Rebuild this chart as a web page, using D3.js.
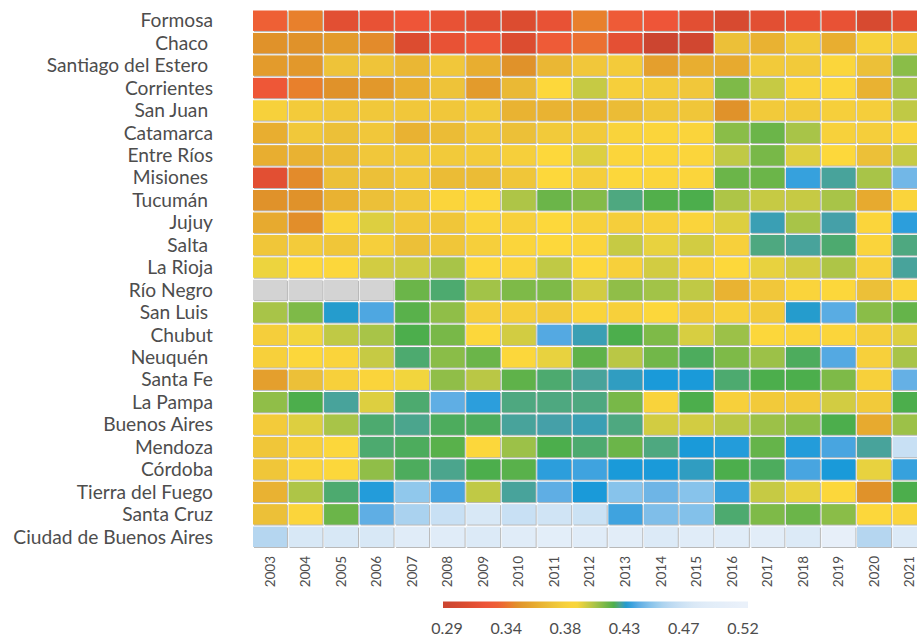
<!DOCTYPE html>
<html>
<head>
<meta charset="utf-8">
<script src="https://cdn.jsdelivr.net/npm/d3@7"></script>
<style>
  html, body { margin: 0; padding: 0; background: #fff; }
  svg { display: block; font-family: Lato, "Open Sans", sans-serif; }
  .ylab { white-space: pre; }
</style>
</head>
<body>
<svg id="chart" width="917" height="641"></svg>
<script>
// Years shown along the bottom axis
const years = ["2003","2004","2005","2006","2007","2008","2009","2010","2011","2012",
               "2013","2014","2015","2016","2017","2018","2019","2020","2021"];

// Provinces, top to bottom
const provinces = ["Formosa","Chaco ","Santiago del Estero ","Corrientes","San Juan ","Catamarca",
  "Entre Ríos","Misiones ","Tucumán ","Jujuy","Salta ","La Rioja","Río Negro","San Luis ",
  "Chubut","Neuquén ","Santa Fe","La Pampa","Buenos Aires","Mendoza","Córdoba",
  "Tierra del Fuego","Santa Cruz","Ciudad de Buenos Aires"];

// Index per province and year (null = no data)
const formosa      = [0.330,0.340,0.310,0.315,0.320,0.315,0.310,0.305,0.315,0.340,0.325,0.320,0.310,0.300,0.310,0.315,0.315,0.300,0.310];
const chaco        = [0.345,0.345,0.350,0.343,0.305,0.315,0.322,0.305,0.325,0.335,0.312,0.290,0.295,0.370,0.362,0.377,0.360,0.383,0.378];
const santiago     = [0.350,0.348,0.372,0.373,0.365,0.375,0.360,0.345,0.365,0.375,0.378,0.352,0.360,0.358,0.377,0.377,0.388,0.370,0.410];
const corrientes   = [0.322,0.340,0.345,0.348,0.360,0.372,0.350,0.366,0.390,0.400,0.381,0.378,0.375,0.412,0.400,0.385,0.388,0.362,0.405];
const sanJuan      = [0.383,0.378,0.375,0.376,0.375,0.375,0.377,0.363,0.363,0.363,0.368,0.374,0.374,0.345,0.377,0.377,0.381,0.380,0.401];
const catamarca    = [0.360,0.376,0.370,0.375,0.362,0.368,0.375,0.370,0.377,0.377,0.385,0.387,0.386,0.410,0.415,0.405,0.383,0.380,0.386];
const entreRios    = [0.360,0.362,0.368,0.375,0.376,0.377,0.378,0.381,0.390,0.396,0.387,0.387,0.387,0.401,0.413,0.396,0.390,0.370,0.400];
const misiones     = [0.310,0.343,0.370,0.370,0.375,0.368,0.368,0.374,0.390,0.380,0.389,0.387,0.387,0.415,0.415,0.433,0.425,0.405,0.443];
const tucuman      = [0.345,0.345,0.362,0.370,0.375,0.387,0.389,0.404,0.415,0.411,0.423,0.419,0.420,0.404,0.400,0.400,0.405,0.358,0.386];
const jujuy        = [0.358,0.344,0.386,0.396,0.375,0.374,0.386,0.382,0.390,0.383,0.380,0.382,0.386,0.396,0.427,0.405,0.426,0.387,0.432];
const salta        = [0.374,0.378,0.374,0.381,0.370,0.374,0.381,0.387,0.390,0.387,0.400,0.394,0.398,0.382,0.423,0.425,0.422,0.386,0.423];
const laRioja      = [0.393,0.389,0.389,0.398,0.399,0.405,0.389,0.386,0.401,0.390,0.382,0.398,0.382,0.390,0.394,0.398,0.404,0.382,0.425];
const rioNegro     = [null,null,null,null,0.415,0.422,0.406,0.412,0.412,0.398,0.409,0.406,0.401,0.363,0.375,0.386,0.389,0.370,0.386];
const sanLuis      = [0.405,0.412,0.429,0.436,0.418,0.409,0.380,0.380,0.377,0.386,0.382,0.389,0.377,0.382,0.377,0.429,0.438,0.410,0.416];
const chubut       = [0.380,0.392,0.401,0.405,0.420,0.413,0.389,0.398,0.437,0.427,0.420,0.412,0.397,0.407,0.389,0.386,0.387,0.380,0.396];
const neuquen      = [0.382,0.389,0.386,0.400,0.422,0.410,0.415,0.389,0.394,0.417,0.402,0.414,0.421,0.412,0.407,0.421,0.437,0.382,0.405];
const santaFe      = [0.352,0.370,0.382,0.386,0.392,0.409,0.402,0.417,0.422,0.425,0.428,0.430,0.430,0.422,0.420,0.420,0.412,0.382,0.440];
const laPampa      = [0.409,0.420,0.425,0.396,0.422,0.439,0.432,0.423,0.423,0.423,0.413,0.385,0.420,0.382,0.377,0.377,0.398,0.377,0.420];
const buenosAires  = [0.378,0.396,0.405,0.422,0.424,0.421,0.421,0.425,0.426,0.427,0.423,0.398,0.398,0.402,0.407,0.410,0.420,0.358,0.407];
const mendoza      = [0.374,0.382,0.389,0.422,0.421,0.418,0.389,0.407,0.420,0.422,0.415,0.423,0.430,0.431,0.416,0.431,0.435,0.425,0.470];
const cordoba      = [0.374,0.386,0.389,0.409,0.421,0.424,0.420,0.418,0.432,0.434,0.430,0.430,0.428,0.420,0.421,0.435,0.430,0.394,0.433];
const tierraFuego  = [0.362,0.404,0.422,0.431,0.450,0.435,0.401,0.425,0.439,0.430,0.448,0.442,0.448,0.433,0.400,0.394,0.389,0.345,0.420];
const santaCruz    = [0.370,0.387,0.415,0.439,0.457,0.470,0.480,0.470,0.475,0.472,0.434,0.446,0.447,0.422,0.412,0.415,0.410,0.389,0.386];
const caba         = [0.460,0.480,0.480,0.480,0.490,0.490,0.485,0.490,0.500,0.490,0.495,0.485,0.490,0.490,0.495,0.485,0.510,0.460,0.485];

const rows = [formosa, chaco, santiago, corrientes, sanJuan, catamarca, entreRios, misiones,
  tucuman, jujuy, salta, laRioja, rioNegro, sanLuis, chubut, neuquen, santaFe, laPampa,
  buenosAires, mendoza, cordoba, tierraFuego, santaCruz, caba];

// Legend tick labels
const legendTicks = [0.29, 0.336, 0.382, 0.428, 0.474, 0.52];
const legendLabels = ["0.29","0.34","0.38","0.43","0.47","0.52"];

// Diverging colour ramp: red → orange → yellow → green → blue → pale blue
const colorStops = [0.29,0.305,0.32,0.33,0.34,0.345,0.36,0.37,0.38,0.39,0.398,0.405,0.413,0.42,0.423,0.426,0.43,0.435,0.44,0.45,0.46,0.47,0.48,0.49,0.52];
const colorRange = ["#cc4530","#dc4c30","#ee5538","#ee6035","#e8802c","#e0922a","#e8ae30","#ecc038","#f5ce3b","#fdd83b","#d2cc42","#a8c448","#78b848","#4cae4c","#4ea880","#45a0a8","#1a9ad9","#48a5e0","#65b0e5","#90c8ec","#b5d6f0","#c8e0f4","#d8e8f6","#e0ecf8","#eaf1fa"];

const color = d3.scaleLinear().domain(colorStops).range(colorRange)
  .interpolate(d3.interpolateRgb).clamp(true);

const svg = d3.select("#chart");
svg.append("rect").attr("width", 917).attr("height", 641).attr("fill", "#fff");

const x = d3.scaleBand().domain(years).range([253, 926.5]).paddingInner(0.045).paddingOuter(0);
const y = d3.scaleBand().domain(provinces).range([10.5, 547]).paddingInner(0.09).paddingOuter(0);

const cells = [];
rows.forEach((vals, i) => vals.forEach((v, j) => cells.push({ p: provinces[i], yr: years[j], v })));

const g = svg.append("g");
// soft shadow under each cell
g.selectAll("rect.sh").data(cells).join("rect").attr("class", "sh")
  .attr("x", d => x(d.yr) + 1).attr("y", d => y(d.p) + 1)
  .attr("width", x.bandwidth()).attr("height", y.bandwidth())
  .attr("fill", "#b9b9b9");
g.selectAll("rect.cell").data(cells).join("rect").attr("class", "cell")
  .attr("x", d => x(d.yr)).attr("y", d => y(d.p))
  .attr("width", x.bandwidth()).attr("height", y.bandwidth())
  .attr("fill", d => d.v == null ? "#d3d3d3" : color(d.v));

// Province labels
svg.append("g").selectAll("text").data(provinces).join("text")
  .attr("class", "ylab")
  .attr("x", 213).attr("y", d => y(d) + y.bandwidth() / 2)
  .attr("dy", "0.35em").attr("text-anchor", "end")
  .attr("font-size", 19.2).attr("fill", "#4d4d4d")
  .text(d => d);

// Year labels, rotated
svg.append("g").selectAll("text").data(years).join("text")
  .attr("transform", d => `translate(${x(d) + x.bandwidth() / 2},556) rotate(-90)`)
  .attr("dy", "0.35em").attr("text-anchor", "end")
  .attr("font-size", 13.5).attr("fill", "#4d4d4d")
  .text(d => d);

// Colour legend
const lx = d3.scaleLinear().domain([0.29, 0.52]).range([447, 743]);
const defs = svg.append("defs");
const grad = defs.append("linearGradient").attr("id", "lg")
  .attr("x1", "0%").attr("x2", "100%");
const gx0 = 443, gx1 = 748;
d3.range(0, 1.0001, 0.02).forEach(t => {
  const v = lx.invert(gx0 + t * (gx1 - gx0));
  grad.append("stop").attr("offset", (t * 100) + "%").attr("stop-color", color(v));
});
svg.append("rect").attr("x", gx0).attr("y", 601.5).attr("width", gx1 - gx0).attr("height", 6.5)
  .attr("fill", "url(#lg)");
svg.append("g").selectAll("text").data(legendTicks).join("text")
  .attr("x", d => lx(d)).attr("y", 634)
  .attr("text-anchor", "middle").attr("font-size", 16).attr("fill", "#4d4d4d")
  .text((d, i) => legendLabels[i]);
</script>
</body>
</html>
